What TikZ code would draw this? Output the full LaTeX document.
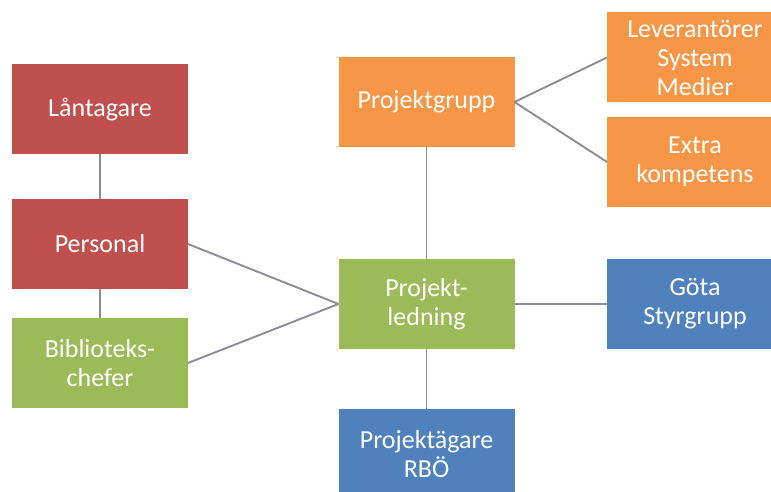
\documentclass[tikz,border=0pt]{standalone}
\usepackage{fontspec}
\setmainfont{Carlito}
\usepackage{tikz}

\definecolor{boxred}{HTML}{C0504D}
\definecolor{boxgreen}{HTML}{9BBB59}
\definecolor{boxorange}{HTML}{F79646}
\definecolor{boxblue}{HTML}{4F81BD}
\definecolor{linkgray}{HTML}{8C8C96}

\tikzset{
  box/.style={minimum width=176pt, minimum height=90pt, inner sep=0pt, outer sep=0pt,
    align=center, text=white, font=\fontsize{26}{29}\selectfont},
  link/.style={draw=linkgray, line width=1.9pt}
}

\begin{document}
\begin{tikzpicture}[x=1pt,y=-1pt]
\useasboundingbox (0,0) rectangle (771,492) ;
\clip (0,0) rectangle (771,492) ;
\node [box, fill=boxred] (lan) at (100,109.5) {Låntagare} ;
\node [box, fill=boxred] (pers) at (100,244) {Personal} ;
\node [box, fill=boxgreen] (bib) at (100,363) {Biblioteks-\\chefer} ;
\node [box, fill=boxorange] (grupp) at (426.5,102) {Projektgrupp} ;
\node [box, fill=boxorange] (lev) at (695,57.5) {Leverantörer\\System\\Medier} ;
\node [box, fill=boxorange] (extra) at (695,162) {Extra\\kompetens} ;
\node [box, fill=boxgreen] (led) at (426.5,304) {Projekt-\\ledning} ;
\node [box, fill=boxblue] (gota) at (695,304) {Göta\\Styrgrupp} ;
\node [box, fill=boxblue] (agare) at (426.5,454) {Projektägare\\RBÖ} ;
\draw [link] (lan) -- (pers) ;
\draw [link] (pers) -- (bib) ;
\draw [link] (pers.east) -- (led.west) ;
\draw [link] (bib.east) -- (led.west) ;
\draw [link] (grupp) -- (led) ;
\draw [link] (grupp.east) -- (lev.west) ;
\draw [link] (grupp.east) -- (extra.west) ;
\draw [link] (led) -- (gota) ;
\draw [link] (led) -- (agare) ;
\end{tikzpicture}
\end{document}
